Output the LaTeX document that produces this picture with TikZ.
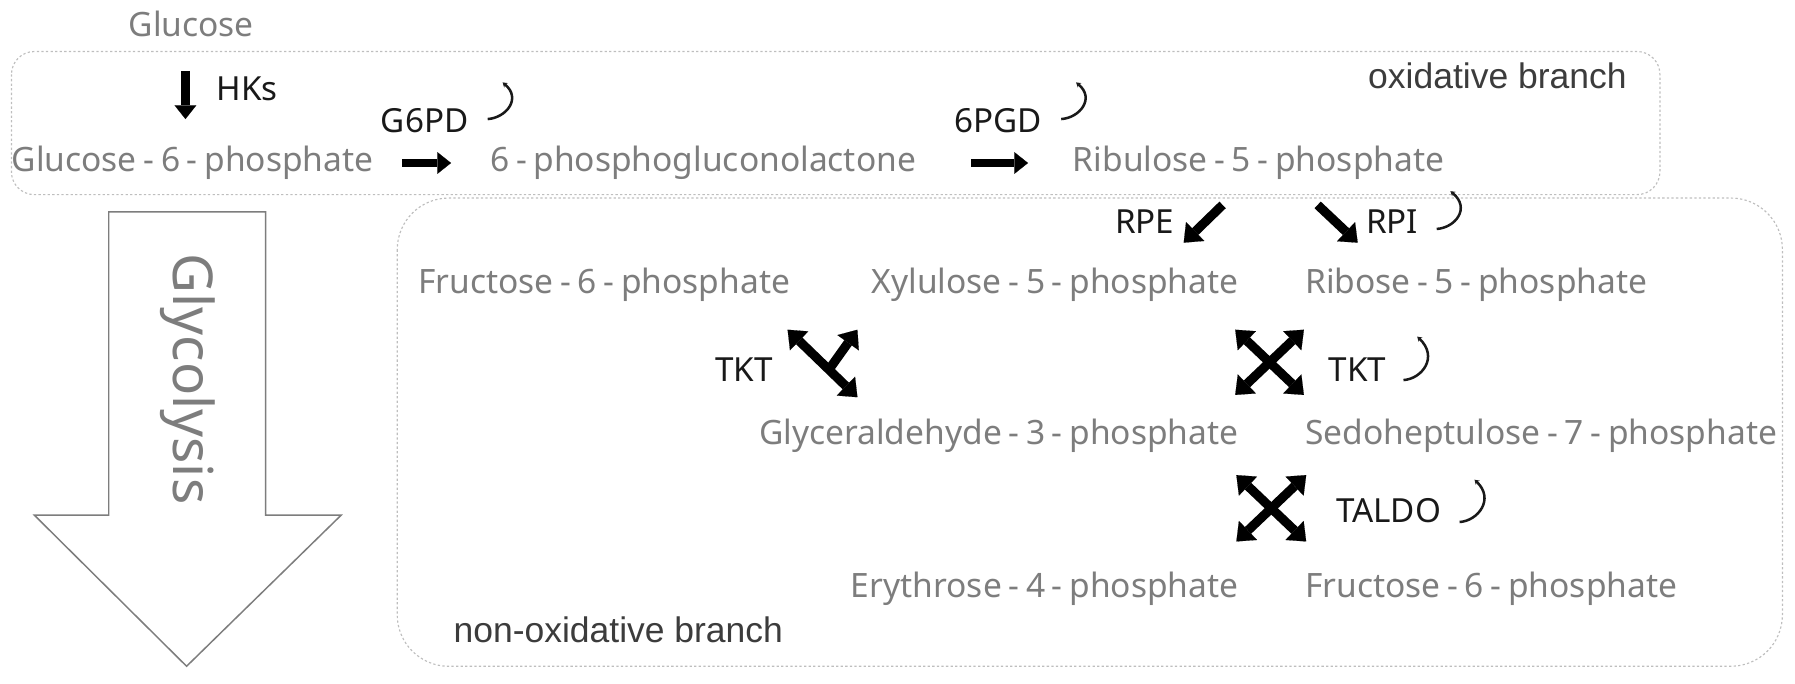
\documentclass[tikz,border=0pt]{standalone}
\usepackage{fontspec}
\setmainfont{Noto Sans}
\newfontfamily\arialfont{Liberation Sans}
\usetikzlibrary{arrows.meta}
\definecolor{metab}{RGB}{125,125,125}
\definecolor{enz}{RGB}{25,25,25}
\definecolor{brc}{RGB}{60,60,60}
\definecolor{boxc}{RGB}{190,190,190}
\newcommand{\hy}{\kern0.2em-\kern0.2em}
\begin{document}
\begin{tikzpicture}[x=1pt,y=-1pt,
  met/.style={text=metab, font=\fontsize{29.3}{33}\selectfont, inner sep=0pt},
  enzl/.style={text=enz, font=\fontsize{29}{33}\selectfont, inner sep=0pt},
  brl/.style={text=brc, font=\arialfont\fontsize{31}{35}\selectfont, inner sep=0pt},
  fat/.style={draw=black, line width=7.5pt, -{Triangle[length=12pt,width=19pt,line width=0.1pt]}},
  fatx/.style={draw=black, line width=8pt, {Triangle[length=14pt,width=23pt,line width=0.1pt]}-{Triangle[length=14pt,width=23pt,line width=0.1pt]}},
  fatb/.style={draw=black, line width=8pt, -{Triangle[length=14pt,width=23pt,line width=0.1pt]}},
  curv/.style={draw=enz, line width=2.2pt, -{Stealth[length=4pt,width=5pt]}},
  branchbox/.style={draw=boxc, line width=1pt, dash pattern=on 2pt off 2pt},
  bigarrow/.style={draw=metab, line width=1.3pt, fill=white}
]
\useasboundingbox (0,0) rectangle (1568,597);
% branch boxes
\draw[branchbox, rounded corners=20pt] (10,45) rectangle (1450,170);
\draw[branchbox, rounded corners=45pt] (347,173) rectangle (1557,582);
% glycolysis arrow
\draw[bigarrow] (95,185) -- (232,185) -- (232,450) -- (298,450) -- (163,582) -- (30,450) -- (95,450) -- cycle;
\node[rotate=-90, text=metab, font=\fontsize{48}{52}\selectfont, inner sep=0pt] (glyco) at (164,331) {Glycolysis};
% metabolites
\node[met, anchor=base] (glc) at (167,32) {Glucose};
\node[met, anchor=base west] (g6p) at (10,150) {Glucose\hy 6\hy phosphate};
\node[met, anchor=base west] (pgl) at (428,150) {6\hy phosphogluconolactone};
\node[met, anchor=base west] (ru5p) at (937,150) {Ribulose\hy 5\hy phosphate};
\node[met, anchor=base west] (f6pa) at (365,256) {Fructose\hy 6\hy phosphate};
\node[met, anchor=base east] (xu5p) at (1082,256) {Xylulose\hy 5\hy phosphate};
\node[met, anchor=base west] (r5p) at (1140,256) {Ribose\hy 5\hy phosphate};
\node[met, anchor=base east] (gap) at (1082,388) {Glyceraldehyde\hy 3\hy phosphate};
\node[met, anchor=base west] (s7p) at (1140,388) {Sedoheptulose\hy 7\hy phosphate};
\node[met, anchor=base east] (e4p) at (1082,522) {Erythrose\hy 4\hy phosphate};
\node[met, anchor=base west] (f6pb) at (1140,522) {Fructose\hy 6\hy phosphate};
% enzymes and branch labels
\node[enzl, anchor=base west] (hks) at (189,88) {HKs};
\node[enzl, anchor=base] (g6pd) at (371,116) {G6PD};
\node[enzl, anchor=base] (pgd) at (872,116) {6PGD};
\node[enzl, anchor=base] (rpe) at (1000,204) {RPE};
\node[enzl, anchor=base] (rpi) at (1216,204) {RPI};
\node[enzl, anchor=base] (tkta) at (650,333) {TKT};
\node[enzl, anchor=base] (tktb) at (1186,333) {TKT};
\node[enzl, anchor=base] (taldo) at (1213,456) {TALDO};
\node[brl, anchor=base west] (oxl) at (1195,77) {oxidative branch};
\node[brl, anchor=base west] (nonoxl) at (396,561) {non-oxidative branch};
% oxidative reactions
\coordinate (hkA) at (162,62);
\coordinate (hkB) at (162,104);
\draw[fat] (hkA) -- (hkB);
\draw[fat, shorten <=25pt, shorten >=34pt] (g6p.east) -- (pgl.west);
\draw[fat, shorten <=48pt, shorten >=39pt] (pgl.east) -- (ru5p.west);
% non-oxidative reactions
\coordinate (rpeA) at (1068,179);
\coordinate (rpeB) at (1034,212);
\coordinate (rpiA) at (1151,179);
\coordinate (rpiB) at (1186,212);
\draw[fatb] (rpeA) -- (rpeB);
\draw[fatb] (rpiA) -- (rpiB);
% left TKT (Y shape)
\coordinate (ta1) at (688,288);
\coordinate (ta2) at (749,347);
\coordinate (ta3) at (749,288);
\coordinate (ta0) at (724,323);
\draw[fatx] (ta1) -- (ta2);
\draw[fatb] (ta0) -- (ta3);
% right TKT (X shape)
\coordinate (tb1) at (1079,288);
\coordinate (tb2) at (1139,345);
\coordinate (tb3) at (1139,288);
\coordinate (tb4) at (1079,345);
\draw[fatx] (tb1) -- (tb2);
\draw[fatx] (tb3) -- (tb4);
% TALDO (X shape)
\coordinate (tc1) at (1080,415);
\coordinate (tc2) at (1141,473);
\coordinate (tc3) at (1141,415);
\coordinate (tc4) at (1080,473);
\draw[fatx] (tc1) -- (tc2);
\draw[fatx] (tc3) -- (tc4);
% curved arrows
\coordinate (cA) at (426,104);
\coordinate (cB) at (439,72);
\draw[curv] (cA) .. controls (442,103) and (456,86) .. (cB);
\coordinate (cC) at (927,104);
\coordinate (cD) at (940,72);
\draw[curv] (cC) .. controls (943,103) and (957,86) .. (cD);
\coordinate (cE) at (1255,200);
\coordinate (cF) at (1267,167);
\draw[curv] (cE) .. controls (1271,199) and (1285,182) .. (cF);
\coordinate (cG) at (1226,332);
\coordinate (cH) at (1238,294);
\draw[curv] (cG) .. controls (1242,331) and (1257,312) .. (cH);
\coordinate (cI) at (1275,456);
\coordinate (cJ) at (1288,419);
\draw[curv] (cI) .. controls (1291,455) and (1306,436) .. (cJ);
\end{tikzpicture}
\end{document}
